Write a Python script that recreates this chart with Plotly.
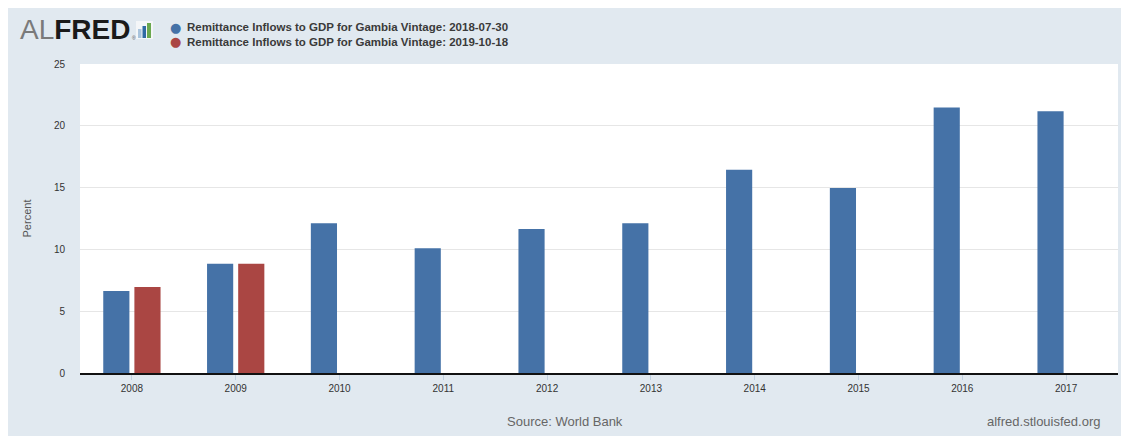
import plotly.graph_objects as go

years = ["2008", "2009", "2010", "2011", "2012", "2013", "2014", "2015", "2016", "2017"]
vintage_2018 = [6.63, 8.83, 12.12, 10.10, 11.66, 12.12, 16.45, 14.96, 21.48, 21.17]
vintage_2019 = [6.95, 8.83, None, None, None, None, None, None, None, None]
series_names = ["Remittance Inflows to GDP for Gambia Vintage: 2018-07-30",
                "Remittance Inflows to GDP for Gambia Vintage: 2019-10-18"]
colors = ["#4572a7", "#aa4643"]
y_ticks = [0, 5, 10, 15, 20, 25]

OFF = 8  # page body margin
W, H = 1129 - OFF, 436 - OFF
L, R, T, B = 80 - OFF, 11, 64 - OFF, H - (373 - OFF)
PW, PH = W - L - R, H - T - B

def px(x):
    return (x - OFF - L) / PW

def py(y):
    return (H - B - (y - OFF)) / PH

fig = go.Figure()
for name, vals, c in zip(series_names, [vintage_2018, vintage_2019], colors):
    fig.add_trace(go.Bar(x=years, y=vals, name=name, marker=dict(color=c, line=dict(width=0)),
                         showlegend=False))

panel = "#e1e9f0"
shapes = [
    # logo icon
    dict(type="rect", xref="paper", yref="paper", x0=px(136), x1=px(153), y0=py(39), y1=py(21),
         fillcolor="#f4f6f8", line=dict(width=0)),
    dict(type="rect", xref="paper", yref="paper", x0=px(138), x1=px(141.5), y0=py(38), y1=py(29),
         fillcolor="#a9c4dd", line=dict(width=0)),
    dict(type="rect", xref="paper", yref="paper", x0=px(142.5), x1=px(146), y0=py(38), y1=py(26),
         fillcolor="#2f6aa3", line=dict(width=0)),
    dict(type="rect", xref="paper", yref="paper", x0=px(147), x1=px(151), y0=py(38), y1=py(23),
         fillcolor="#6aa84f", line=dict(width=0)),
]

annotations = [
    dict(xref="paper", yref="paper", x=px(18), y=py(30), xanchor="left", yanchor="middle",
         text="<span style='color:#7a7a7a'>AL</span><b>FRED</b>", showarrow=False,
         font=dict(family="Liberation Sans, Arial", size=28, color="#1a1a1a")),
    dict(xref="paper", yref="paper", x=px(130), y=py(38), xanchor="left", yanchor="middle",
         text="®", showarrow=False, font=dict(family="Liberation Sans, Arial", size=5, color="#555")),
    dict(xref="paper", yref="paper", x=px(565), y=py(421), xanchor="center", yanchor="middle",
         text="Source: World Bank", showarrow=False,
         font=dict(family="Liberation Sans, Arial", size=13, color="#666666")),
    dict(xref="paper", yref="paper", x=px(1102), y=py(421), xanchor="right", yanchor="middle",
         text="alfred.stlouisfed.org", showarrow=False,
         font=dict(family="Liberation Sans, Arial", size=13, color="#666666")),
]
for i, (name, c) in enumerate(zip(series_names, colors)):
    yy = 27.5 + 14 * i
    annotations.append(dict(xref="paper", yref="paper", x=px(175), y=py(yy), xanchor="center",
                            yanchor="middle", text="●", showarrow=False,
                            font=dict(family="DejaVu Sans", size=13, color=c)))
    annotations.append(dict(xref="paper", yref="paper", x=px(185), y=py(yy), xanchor="left",
                            yanchor="middle", text="<b>" + name + "</b>", showarrow=False,
                            font=dict(family="Liberation Sans, Arial", size=11.5, color="#3a3a3a")))

fig.update_layout(
    width=W, height=H,
    margin=dict(l=L, r=R, t=T, b=B, pad=0),
    paper_bgcolor=panel, plot_bgcolor="white",
    barmode="group", bargap=0.4, bargroupgap=0.16,
    shapes=shapes, annotations=annotations,
    showlegend=False,
    font=dict(family="Liberation Sans, Arial", size=10, color="#333333"),
)
fig.update_xaxes(type="category", showgrid=False, showline=True, linecolor="#111111", linewidth=2,
                 ticks="outside", ticklen=5, tickcolor="#c0d0e0", tickwidth=1,
                 tickfont=dict(size=10, color="#333333"), fixedrange=True)
fig.update_yaxes(range=[0, 25], tickvals=y_ticks, showgrid=True, gridcolor="#e6e6e6", gridwidth=1,
                 zeroline=False, showline=False, ticklabelstandoff=14,
                 tickfont=dict(size=10, color="#333333"),
                 title=dict(text="Percent", font=dict(size=11, color="#555555"), standoff=20),
                 fixedrange=True)

fig.write_html("out.html")
